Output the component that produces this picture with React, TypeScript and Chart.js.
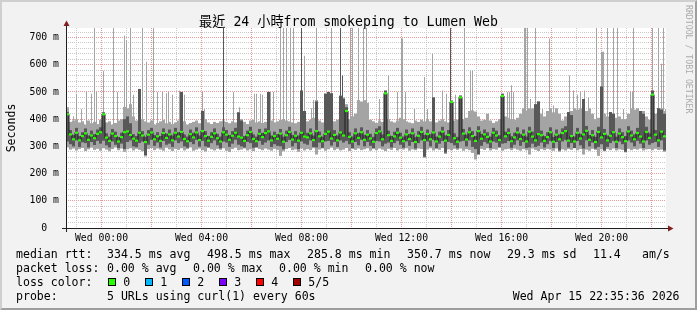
import React, { useEffect, useRef } from 'react';
import { Chart, registerables } from 'chart.js';

Chart.register(...registerables);

// ------------------------------------------------------------------ data
const titleText = '最近 24 小時from smokeping to Lumen Web';
const yAxisTitle = 'Seconds';
const watermarkText = 'RRDTOOL / TOBI OETIKER';

// hours relative to Wed 00:00 (negative = Tuesday)
const startHour = -1.42; // Tue 22:35
const endHour = 22.58; // Wed 22:35
const columnHours = 0.12; // one smoke column = 7.2 min
const yMaxMs = 735;

// smoke: lowest ping, inner lower, median, inner upper, highest ping (ms)
const smokeMin = [
  296, 288, 292, 285, 290, 294, 283, 289, 295, 287,
  291, 284, 293, 288, 282, 290, 296, 286, 292, 280,
  289, 293, 285, 291, 287, 282, 263, 290, 294, 286,
  292, 288, 284, 295, 289, 283, 291, 287, 293, 285,
  290, 296, 284, 288, 292, 286, 281, 294, 289, 285,
  291, 287, 293, 284, 279, 290, 295, 286, 288, 292,
  285, 289, 283, 294, 290, 286, 292, 288, 284, 291,
  287, 265, 282, 290, 294, 286, 289, 280, 292, 285,
  290, 286, 293, 270, 288, 292, 284, 289, 295, 286,
  291, 285, 288, 294, 283, 290, 287, 292, 286, 289,
  293, 284, 290, 286, 292, 288, 283, 291, 287, 294,
  285, 290, 288, 293, 284, 289, 286, 292, 290, 258,
  288, 293, 285, 290, 287, 294, 272, 289, 286, 291,
  287, 292, 284, 290, 286, 276, 252, 268, 291, 287,
  293, 285, 290, 288, 294, 284, 289, 291, 286, 292,
  288, 284, 290, 286, 270, 292, 287, 283, 290, 286,
  291, 288, 284, 292, 280, 289, 285, 290, 287, 293,
  286, 290, 270, 288, 284, 291, 287, 265, 289, 282,
  290, 286, 292, 285, 289, 287, 278, 291, 286, 290,
  288, 292, 285, 289, 290, 286, 291, 287, 288, 280,
];

const smokeInnerLow = [
  318, 308, 300, 322, 298, 315, 312, 296, 316, 305,
  320, 310, 321, 304, 296, 318, 306, 294, 310, 290,
  316, 322, 300, 297, 312, 318, 268, 306, 324, 302,
  314, 296, 320, 306, 310, 298, 322, 312, 318, 300,
  295, 316, 308, 324, 299, 320, 300, 297, 312, 322,
  304, 293, 318, 314, 298, 310, 324, 306, 300, 296,
  316, 312, 295, 298, 320, 306, 314, 322, 298, 308,
  302, 300, 289, 316, 324, 300, 312, 290, 318, 310,
  306, 322, 298, 296, 314, 295, 318, 320, 303, 316,
  298, 322, 314, 320, 308, 294, 316, 304, 324, 300,
  316, 302, 294, 320, 318, 300, 310, 314, 296, 312,
  320, 306, 295, 318, 302, 316, 292, 312, 322, 262,
  318, 300, 324, 294, 310, 320, 277, 316, 312, 304,
  293, 318, 320, 300, 322, 298, 290, 272, 302, 316,
  310, 294, 318, 314, 298, 310, 312, 320, 295, 306,
  322, 302, 316, 294, 296, 310, 298, 302, 314, 296,
  308, 320, 294, 316, 285, 318, 324, 296, 312, 294,
  320, 304, 292, 322, 300, 314, 292, 298, 308, 285,
  298, 312, 320, 294, 318, 308, 280, 322, 314, 300,
  320, 310, 294, 322, 306, 312, 316, 298, 322, 285,
];

const medianMs = [
  418, 344, 326, 350, 322, 338, 348, 324, 340, 330,
  346, 352, 418, 332, 320, 347, 338, 318, 334, 352,
  355, 342, 328, 321, 350, 340, 316, 343, 351, 326,
  337, 320, 349, 331, 344, 322, 350, 336, 353, 327,
  319, 345, 333, 351, 323, 356, 338, 321, 335, 348,
  330, 318, 352, 343, 324, 339, 350, 336, 332, 320,
  341, 353, 327, 319, 346, 334, 349, 355, 322, 338,
  328, 347, 317, 341, 353, 325, 339, 321, 350, 336,
  333, 348, 323, 356, 337, 319, 346, 354, 329, 342,
  322, 351, 340, 430, 335, 318, 348, 331, 352, 324,
  343, 329, 317, 349, 355, 326, 495, 341, 320, 337,
  350, 332, 319, 344, 327, 348, 316, 339, 353, 323,
  345, 326, 351, 318, 336, 354, 321, 342, 463, 330,
  317, 480, 347, 325, 352, 338, 320, 356, 328, 344,
  335, 318, 350, 340, 323, 485, 337, 349, 319, 333,
  351, 327, 343, 318, 354, 336, 322, 345, 341, 320,
  334, 352, 317, 343, 326, 349, 356, 321, 338, 318,
  350, 329, 344, 357, 324, 341, 316, 353, 333, 346,
  322, 339, 352, 317, 347, 334, 319, 355, 340, 326,
  349, 336, 318, 353, 331, 490, 343, 322, 354, 337,
];

const smokeInnerHigh = [
  426, 360, 342, 368, 338, 352, 366, 340, 358, 345,
  362, 370, 425, 348, 336, 364, 354, 334, 350, 400,
  410, 385, 345, 338, 511, 356, 335, 360, 368, 342,
  352, 338, 366, 347, 362, 340, 368, 352, 500, 344,
  336, 362, 350, 370, 340, 430, 356, 338, 352, 366,
  346, 336, 370, 360, 342, 356, 368, 425, 395, 338,
  358, 372, 344, 336, 364, 350, 366, 500, 340, 354,
  345, 364, 335, 358, 372, 342, 356, 340, 505, 430,
  350, 366, 340, 465, 354, 336, 493, 500, 495, 360,
  340, 486, 475, 444, 352, 336, 366, 348, 370, 342,
  360, 346, 335, 366, 374, 344, 505, 358, 338, 354,
  368, 350, 336, 362, 345, 366, 334, 356, 372, 342,
  362, 344, 480, 336, 354, 372, 340, 360, 467, 348,
  335, 486, 364, 343, 370, 356, 338, 374, 346, 362,
  352, 336, 368, 358, 341, 492, 354, 366, 337, 350,
  370, 345, 362, 336, 372, 354, 455, 465, 358, 338,
  352, 370, 335, 362, 344, 366, 374, 426, 415, 336,
  368, 346, 474, 375, 342, 360, 335, 372, 520, 364,
  340, 426, 420, 336, 366, 352, 338, 374, 358, 344,
  368, 430, 420, 372, 348, 505, 360, 440, 435, 420,
];

const smokeMax = [
  444, 390, 395, 400, 388, 392, 380, 395, 385, 390,
  382, 398, 425, 388, 392, 380, 386, 395, 400, 445,
  440, 455, 410, 395, 511, 400, 392, 388, 395, 380,
  386, 392, 398, 385, 390, 382, 388, 395, 500, 392,
  380, 386, 390, 395, 385, 430, 400, 388, 382, 390,
  386, 392, 395, 390, 385, 392, 388, 425, 400, 390,
  382, 395, 398, 388, 392, 386, 390, 500, 395, 388,
  392, 398, 400, 395, 392, 388, 385, 390, 505, 430,
  392, 398, 405, 470, 395, 388, 495, 500, 495, 392,
  398, 486, 480, 455, 400, 410, 420, 470, 465, 470,
  460, 398, 392, 386, 395, 390, 505, 400, 392, 388,
  395, 405, 400, 392, 388, 385, 395, 390, 398, 392,
  400, 392, 480, 388, 395, 400, 392, 388, 470, 395,
  398, 488, 400, 405, 430, 432, 428, 410, 395, 398,
  420, 395, 386, 392, 400, 495, 410, 405, 400, 398,
  405, 420, 440, 430, 440, 440, 455, 465, 420, 410,
  430, 440, 425, 440, 420, 395, 410, 426, 430, 440,
  435, 440, 474, 430, 440, 420, 400, 405, 440, 420,
  410, 426, 415, 405, 410, 400, 400, 420, 440, 435,
  440, 430, 430, 410, 398, 505, 420, 440, 440, 430,
];

// single-sample smoke spikes (light grey), hours and peak ms
const spikeHours = [
  -1.12, -1.0, -0.8, -0.6, -0.4, -0.28, -0.2, 0.08, 0.48, 0.64,
  0.92, 1.0, 1.16, 1.28, 1.64, 1.8, 2.08, 2.24, 2.44, 2.6,
  2.68, 2.84, 3.12, 3.32, 4.04, 4.12, 5.28, 5.52, 6.12, 6.2,
  6.36, 6.44, 6.64, 6.76, 6.88, 7.16, 7.28, 7.4, 7.56, 7.68,
  8.12, 8.4, 8.48, 8.6, 9.2, 9.96, 10.04,
  10.28, 10.48, 10.6, 11.12, 11.48, 11.84, 12.0, 12.04, 12.16, 12.52,
  12.92, 13.04, 13.24, 13.64, 13.8, 14.16, 14.52, 14.76, 14.84, 16.24,
  16.32, 16.4, 16.48, 16.92, 16.96, 17.04, 17.16, 17.36, 17.64, 17.92,
  18.08, 18.72, 18.88, 19.04, 19.16, 19.32, 19.48, 19.8, 20.0, 20.04,
  20.08, 20.24, 20.48, 20.64, 20.88, 21.16, 21.24, 21.28, 22.04, 22.28,
  22.4, 22.48, 22.56,
];
const spikeMs = [
  411, 493, 437, 500, 493, 740, 500, 578, 740, 500,
  707, 690, 740, 490, 740, 611, 740, 500, 500, 495,
  500, 490, 505, 490, 500, 437, 500, 444, 493, 493,
  493, 490, 500, 500, 500, 740, 740, 740, 740, 740,
  633, 440, 470, 740, 740, 740, 740,
  740, 740, 740, 474, 560, 500, 696, 696, 500, 437,
  555, 437, 640, 505, 493, 490, 740, 578, 578, 500,
  500, 525, 500, 740, 740, 740, 474, 740, 437, 696,
  450, 560, 505, 490, 500, 505, 480, 740, 648, 648,
  648, 740, 740, 740, 437, 500, 500, 740, 740, 740,
  604, 740, 437,
];
// single-sample dark spikes
const darkSpikeHours = [4.88, 8.0, 9.56, 9.64, 13.96];
const darkSpikeMs = [740, 740, 740, 560, 740];

// axes
const hourGrid = [-1, 0, 1, 2, 3, 4, 5, 6, 7, 8, 9, 10, 11, 12, 13, 14, 15, 16, 17, 18, 19, 20, 21, 22];
const hourLabelAt = [0, 4, 8, 12, 16, 20];
const hourLabels = ['Wed 00:00', 'Wed 04:00', 'Wed 08:00', 'Wed 12:00', 'Wed 16:00', 'Wed 20:00'];
const msGrid = [0, 20, 40, 60, 80, 100, 120, 140, 160, 180, 200, 220, 240, 260, 280, 300, 320, 340, 360,
  380, 400, 420, 440, 460, 480, 500, 520, 540, 560, 580, 600, 620, 640, 660, 680, 700, 720];
const msLabelAt = [0, 100, 200, 300, 400, 500, 600, 700];
const msLabels = ['0  ', '100 m', '200 m', '300 m', '400 m', '500 m', '600 m', '700 m'];

// legend
const rttTitle = 'median rtt:';
const rttStats = ['334.5 ms avg', '498.5 ms max', '285.8 ms min', '350.7 ms now', '29.3 ms sd', '11.4', 'am/s'];
const lossTitle = 'packet loss:';
const lossStats = ['0.00 % avg', '0.00 % max', '0.00 % min', '0.00 % now'];
const lossColorTitle = 'loss color:';
const lossLabels = ['0', '1', '2', '3', '4', '5/5'];
const lossColors = ['#26ff00', '#00b8ff', '#0059ff', '#7e00ff', '#ff0000', '#a10000'];
const probeTitle = 'probe:';
const probeText = '5 URLs using curl(1) every 60s';
const stampText = 'Wed Apr 15 22:35:36 2026';

// ------------------------------------------------------------------ layout / style
const W = 697;
const H = 310;
const PLOT = { left: 66, top: 28, right: 666, bottom: 228 };
const MONO = "'DejaVu Sans Mono', monospace";
const TITLE_FONT = "13.2px 'DejaVu Sans Mono', 'Noto Sans CJK TC', monospace";
const LEGEND_FONT = "11.55px 'DejaVu Sans Mono', monospace";
const LIGHT = '#a4a4a4';
const DARK = '#585858';
const GRID_MINOR = '#c9c9c9';
const GRID_MAJOR = '#e99a9a';
const AXIS = '#1f1f1f';
const ARROW = '#801f1f';

const legendRowsY = [258, 272, 286, 300];
const legendLeft = 16;
const rttStatX = [107, 207, 307, 407, 507, 593, 642];
const lossStatX = [107, 193, 279, 365];
const lossBoxX = [108, 145, 182, 219, 256, 293];
const probeX = 107;
const stampX = 512.7;

const colHours = smokeMax.map((_, i) => startHour + columnHours * (i + 0.5));

const rrdPlugin = {
  id: 'rrdFrame',
  beforeDraw(chart: any) {
    const { ctx } = chart;
    const a = chart.chartArea;
    ctx.save();
    ctx.fillStyle = '#f2f2f2';
    ctx.fillRect(0, 0, W, H);
    ctx.fillStyle = '#cfcfcf';
    ctx.beginPath();
    ctx.moveTo(0, 0); ctx.lineTo(W, 0); ctx.lineTo(W - 2, 2); ctx.lineTo(2, 2);
    ctx.lineTo(2, H - 2); ctx.lineTo(0, H); ctx.closePath(); ctx.fill();
    ctx.fillStyle = '#9e9e9e';
    ctx.beginPath();
    ctx.moveTo(W, 0); ctx.lineTo(W, H); ctx.lineTo(0, H); ctx.lineTo(2, H - 2);
    ctx.lineTo(W - 2, H - 2); ctx.lineTo(W - 2, 2); ctx.closePath(); ctx.fill();
    ctx.fillStyle = '#ffffff';
    ctx.fillRect(a.left, a.top, a.right - a.left, a.bottom - a.top);
    ctx.restore();
  },
  afterDraw(chart: any) {
    const { ctx } = chart;
    const a = chart.chartArea;
    ctx.save();
    // axes
    ctx.strokeStyle = AXIS;
    ctx.lineWidth = 1;
    ctx.beginPath();
    ctx.moveTo(a.left + 0.5, a.bottom + 4);
    ctx.lineTo(a.left + 0.5, a.top - 2);
    ctx.moveTo(a.left - 4, a.bottom + 0.5);
    ctx.lineTo(a.right + 2, a.bottom + 0.5);
    ctx.stroke();
    ctx.fillStyle = ARROW;
    ctx.beginPath();
    ctx.moveTo(a.left + 0.5 - 3, a.top - 2);
    ctx.lineTo(a.left + 0.5 + 3, a.top - 2);
    ctx.lineTo(a.left + 0.5, a.top - 7.5);
    ctx.closePath(); ctx.fill();
    ctx.beginPath();
    ctx.moveTo(a.right + 2, a.bottom + 0.5 - 3);
    ctx.lineTo(a.right + 2, a.bottom + 0.5 + 3);
    ctx.lineTo(a.right + 7.5, a.bottom + 0.5);
    ctx.closePath(); ctx.fill();

    // title
    ctx.fillStyle = '#000';
    ctx.font = TITLE_FONT;
    ctx.textAlign = 'center';
    ctx.textBaseline = 'alphabetic';
    ctx.fillText(titleText, W / 2, 26);

    // watermark
    ctx.save();
    ctx.translate(688, 5);
    ctx.rotate(Math.PI / 2);
    ctx.font = `8.2px ${MONO}`;
    ctx.fillStyle = '#ababab';
    ctx.textAlign = 'left';
    ctx.textBaseline = 'middle';
    ctx.fillText(watermarkText, 0, 0);
    ctx.restore();

    // legend
    ctx.font = LEGEND_FONT;
    ctx.textAlign = 'left';
    ctx.textBaseline = 'alphabetic';
    ctx.fillStyle = '#000';
    ctx.fillText(rttTitle, legendLeft, legendRowsY[0]);
    rttStats.forEach((t, i) => ctx.fillText(t, rttStatX[i], legendRowsY[0]));
    ctx.fillText(lossTitle, legendLeft, legendRowsY[1]);
    lossStats.forEach((t, i) => ctx.fillText(t, lossStatX[i], legendRowsY[1]));
    ctx.fillText(lossColorTitle, legendLeft, legendRowsY[2]);
    lossLabels.forEach((t, i) => {
      const bx = lossBoxX[i];
      ctx.fillStyle = lossColors[i];
      ctx.fillRect(bx + 1, legendRowsY[2] - 7, 6, 6);
      ctx.strokeStyle = '#000';
      ctx.strokeRect(bx + 0.5, legendRowsY[2] - 7.5, 7, 7);
      ctx.fillStyle = '#000';
      ctx.fillText(t, bx + 15.3, legendRowsY[2]);
    });
    ctx.fillText(probeTitle, legendLeft, legendRowsY[3]);
    ctx.fillText(probeText, probeX, legendRowsY[3]);
    ctx.fillText(stampText, stampX, legendRowsY[3]);
    ctx.restore();
  },
};

function buildConfig(): any {
  const range = (lo: number[], hi: number[]) => colHours.map((h, i) => ({ x: h, y: [lo[i], hi[i]] }));
  const barCommon = { grouped: false, inflateAmount: 0, borderWidth: 0, clip: 0 };
  return {
    type: 'bar',
    data: {
      datasets: [
        {
          ...barCommon,
          label: 'median',
          data: colHours.map((h, i) => ({ x: h, y: [medianMs[i] - 4, medianMs[i] + 4] })),
          backgroundColor: lossColors[0],
          barThickness: 3,
          order: 0,
        },
        {
          type: 'line',
          label: 'median line',
          data: colHours.map((h, i) => ({ x: h, y: medianMs[i] })),
          borderColor: '#1c1c1c',
          borderWidth: 1,
          stepped: 'middle',
          pointRadius: 0,
          clip: 0,
          order: 1,
        },
        {
          ...barCommon,
          label: 'dark spikes',
          data: darkSpikeHours.map((h, i) => ({ x: h, y: [350, darkSpikeMs[i]] })),
          backgroundColor: DARK,
          barThickness: 1,
          order: 2,
        },
        {
          ...barCommon,
          label: 'inner smoke',
          data: range(smokeInnerLow, smokeInnerHigh),
          backgroundColor: DARK,
          barThickness: 3,
          order: 3,
        },
        {
          ...barCommon,
          label: 'spikes',
          data: spikeHours.map((h, i) => ({ x: h, y: [350, spikeMs[i]] })),
          backgroundColor: LIGHT,
          barThickness: 1,
          order: 4,
        },
        {
          ...barCommon,
          label: 'outer smoke',
          data: range(smokeMin, smokeMax),
          backgroundColor: LIGHT,
          barThickness: 3,
          order: 5,
        },
      ],
    },
    options: {
      responsive: false,
      animation: false,
      devicePixelRatio: 1,
      events: [],
      layout: { padding: { left: 0, top: PLOT.top, right: W - PLOT.right, bottom: 0 } },
      plugins: { legend: { display: false }, tooltip: { enabled: false }, title: { display: false } },
      scales: {
        x: {
          type: 'linear',
          min: startHour,
          max: endHour,
          offset: false,
          z: 1,
          afterBuildTicks: (s: any) => { s.ticks = hourGrid.map((value) => ({ value })); },
          afterFit: (s: any) => { s.height = H - PLOT.bottom; },
          grid: {
            offset: false,
            drawTicks: false,
            lineWidth: 1,
            color: (c: any) => (c.tick && c.tick.value % 2 === 0 ? GRID_MAJOR : GRID_MINOR),
          },
          border: { display: false, dash: [1, 1] },
          ticks: {
            autoSkip: false,
            maxRotation: 0,
            minRotation: 0,
            padding: 5,
            color: '#000',
            font: { family: MONO, size: 9.8 },
            callback: (v: number) => {
              const k = hourLabelAt.indexOf(v);
              return k >= 0 ? hourLabels[k] : '';
            },
          },
        },
        y: {
          type: 'linear',
          min: 0,
          max: yMaxMs,
          z: 1,
          afterBuildTicks: (s: any) => { s.ticks = msGrid.map((value) => ({ value })); },
          afterFit: (s: any) => { s.width = PLOT.left; },
          grid: {
            drawTicks: false,
            lineWidth: 1,
            color: (c: any) => (c.tick && c.tick.value % 100 === 0 ? GRID_MAJOR : GRID_MINOR),
          },
          border: { display: false, dash: [1, 1] },
          title: {
            display: true,
            text: yAxisTitle,
            color: '#000',
            font: { family: MONO, size: 11.55 },
            padding: { top: 4.6, bottom: 0 },
          },
          ticks: {
            autoSkip: false,
            padding: 7,
            color: '#000',
            font: { family: MONO, size: 9.8 },
            callback: (v: number) => {
              const k = msLabelAt.indexOf(v);
              return k >= 0 ? msLabels[k] : '';
            },
          },
        },
      },
    },
    plugins: [rrdPlugin],
  };
}

export default function App() {
  const canvasRef = useRef<HTMLCanvasElement>(null);
  useEffect(() => {
    const chart = new Chart(canvasRef.current as HTMLCanvasElement, buildConfig());
    return () => chart.destroy();
  }, []);
  return (
    <div style={{ position: 'fixed', left: 0, top: 0, width: W, height: H }}>
      <canvas ref={canvasRef} width={W} height={H} style={{ display: 'block', width: W, height: H }} />
    </div>
  );
}
